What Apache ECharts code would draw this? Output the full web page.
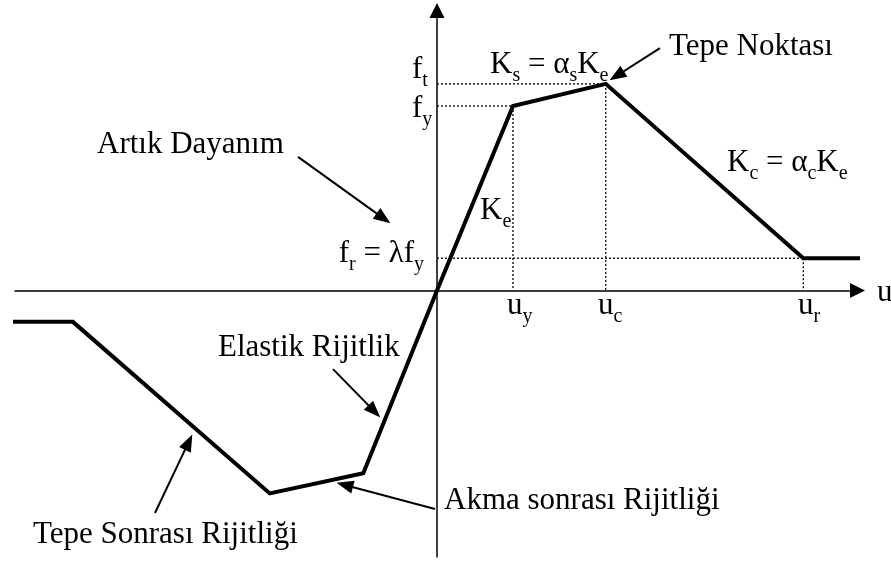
<!DOCTYPE html>
<html>
<head>
<meta charset="utf-8">
<script src="https://cdn.jsdelivr.net/npm/echarts@6/dist/echarts.min.js"></script>
<style>
  html, body { margin: 0; padding: 0; background: #fff; }
  #chart { width: 891px; height: 563px; }
</style>
</head>
<body>
<div id="chart"></div>
<script>
// Backbone force–displacement curve, normalised so that u_y = 1 and f_y = 1
const displacement = [-5.62, -4.79, -2.20, -0.97, 0, 1, 2.22, 4.82, 5.63];
const force        = [-0.17, -0.17, -1.10, -0.99, 0, 1, 1.12, 0.175, 0.175];

// Characteristic displacements and forces
const uKeys = { uy: 1, uc: 2.22, ur: 4.82 };
const fKeys = { fy: 1, ft: 1.12, fr: 0.175 };

// Dotted guides from the axes to the characteristic points
const guides = [
  [[0, fKeys.ft], [uKeys.uc, fKeys.ft]],
  [[uKeys.uc, fKeys.ft], [uKeys.uc, 0]],
  [[0, fKeys.fy], [uKeys.uy, fKeys.fy]],
  [[uKeys.uy, fKeys.fy], [uKeys.uy, 0]],
  [[0, fKeys.fr], [uKeys.ur, fKeys.fr]],
  [[uKeys.ur, fKeys.fr], [uKeys.ur, 0]]
];

// Annotation arrows (tail, head) in axis units
const arrows = [
  [[2.934, 1.314], [2.365, 1.164]],     // Tepe Noktası
  [[-1.829, 0.724], [-0.704, 0.391]],   // Artık Dayanım
  [[-1.368, -0.426], [-0.824, -0.655]], // Elastik Rijitlik
  [[-3.711, -1.206], [-3.268, -0.822]], // Tepe Sonrası Rijitliği
  [[-0.026, -1.184], [-1.214, -1.054]]  // Akma sonrası Rijitliği
];

// Texts; "_x" marks a subscript character
const texts = [
  'Tepe Noktası', 'K_s = α_sK_e', 'f_t', 'f_y', 'f_r = λf_y', 'K_e',
  'K_c = α_cK_e', 'u_y', 'u_c', 'u_r', 'u',
  'Artık Dayanım', 'Elastik Rijitlik', 'Tepe Sonrası Rijitliği', 'Akma sonrası Rijitliği'
];
// Anchor x (left edge, or right edge when flagged) and baseline of each text, in pixels
const textPlacement = [
  [669, 59], [490, 77], [412, 82], [412, 121], [424, 266, 'right'], [480, 223],
  [727, 175], [507, 318], [598, 318], [798, 318], [877, 305],
  [97, 157], [218, 360], [33, 547], [444, 513]
];

const FONT = '"Liberation Serif", "Times New Roman", serif';
const richStyles = {
  m: { fontSize: 31, fontFamily: FONT, lineHeight: 36, verticalAlign: 'top', color: '#000' },
  s: { fontSize: 20, fontFamily: FONT, lineHeight: 20, padding: [16, 0, 0, 0], verticalAlign: 'top', color: '#000' }
};

function toRich(str) {
  let out = '', buf = '';
  for (let i = 0; i < str.length; i++) {
    if (str[i] === '_') {
      if (buf) { out += '{m|' + buf + '}'; buf = ''; }
      out += '{s|' + str[i + 1] + '}';
      i++;
    } else {
      buf += str[i];
    }
  }
  if (buf) out += '{m|' + buf + '}';
  return out;
}

const curve = displacement.map((u, i) => [u, force[i]]);

const series = [];
guides.forEach(seg => {
  series.push({
    type: 'line',
    data: seg,
    symbol: 'none',
    silent: true,
    lineStyle: { color: '#000', width: 1.3, type: [2, 2] },
    z: 1
  });
});
series.push({
  type: 'line',
  data: curve,
  symbol: 'none',
  clip: false,
  silent: true,
  lineStyle: { color: '#000', width: 4, join: 'miter', cap: 'butt' },
  z: 3,
  markLine: {
    silent: true,
    animation: false,
    label: { show: false },
    lineStyle: { color: '#000', width: 2, type: 'solid' },
    emphasis: { disabled: true },
    data: arrows.map(([a, b]) => [
      { coord: a, symbol: 'none' },
      { coord: b, symbol: 'triangle', symbolSize: [13, 17] }
    ])
  }
});

const axisCommon = {
  type: 'value',
  splitLine: { show: false },
  axisTick: { show: false },
  axisLabel: { show: false },
  axisLine: {
    show: true,
    onZero: true,
    symbol: ['none', 'triangle'],
    symbolSize: [15, 15],
    lineStyle: { color: '#000', width: 1.5 }
  }
};

const chart = echarts.init(document.getElementById('chart'), null, { renderer: 'canvas' });
chart.setOption({
  animation: false,
  backgroundColor: '#fff',
  grid: { left: 15, right: 33.5, top: 10.5, bottom: 6, containLabel: false },
  xAxis: Object.assign({}, axisCommon, { min: -5.5526, max: 5.5329 }),
  yAxis: Object.assign({}, axisCommon, { min: -1.4444, max: 1.5176 }),
  series: series,
  graphic: texts.map((t, i) => ({
    type: 'text',
    x: textPlacement[i][0],
    y: textPlacement[i][1] - 27.5,
    silent: true,
    z: 10,
    style: {
      text: toRich(t),
      rich: richStyles,
      align: textPlacement[i][2] || 'left',
      verticalAlign: 'top',
      fill: '#000'
    }
  }))
});
</script>
</body>
</html>
